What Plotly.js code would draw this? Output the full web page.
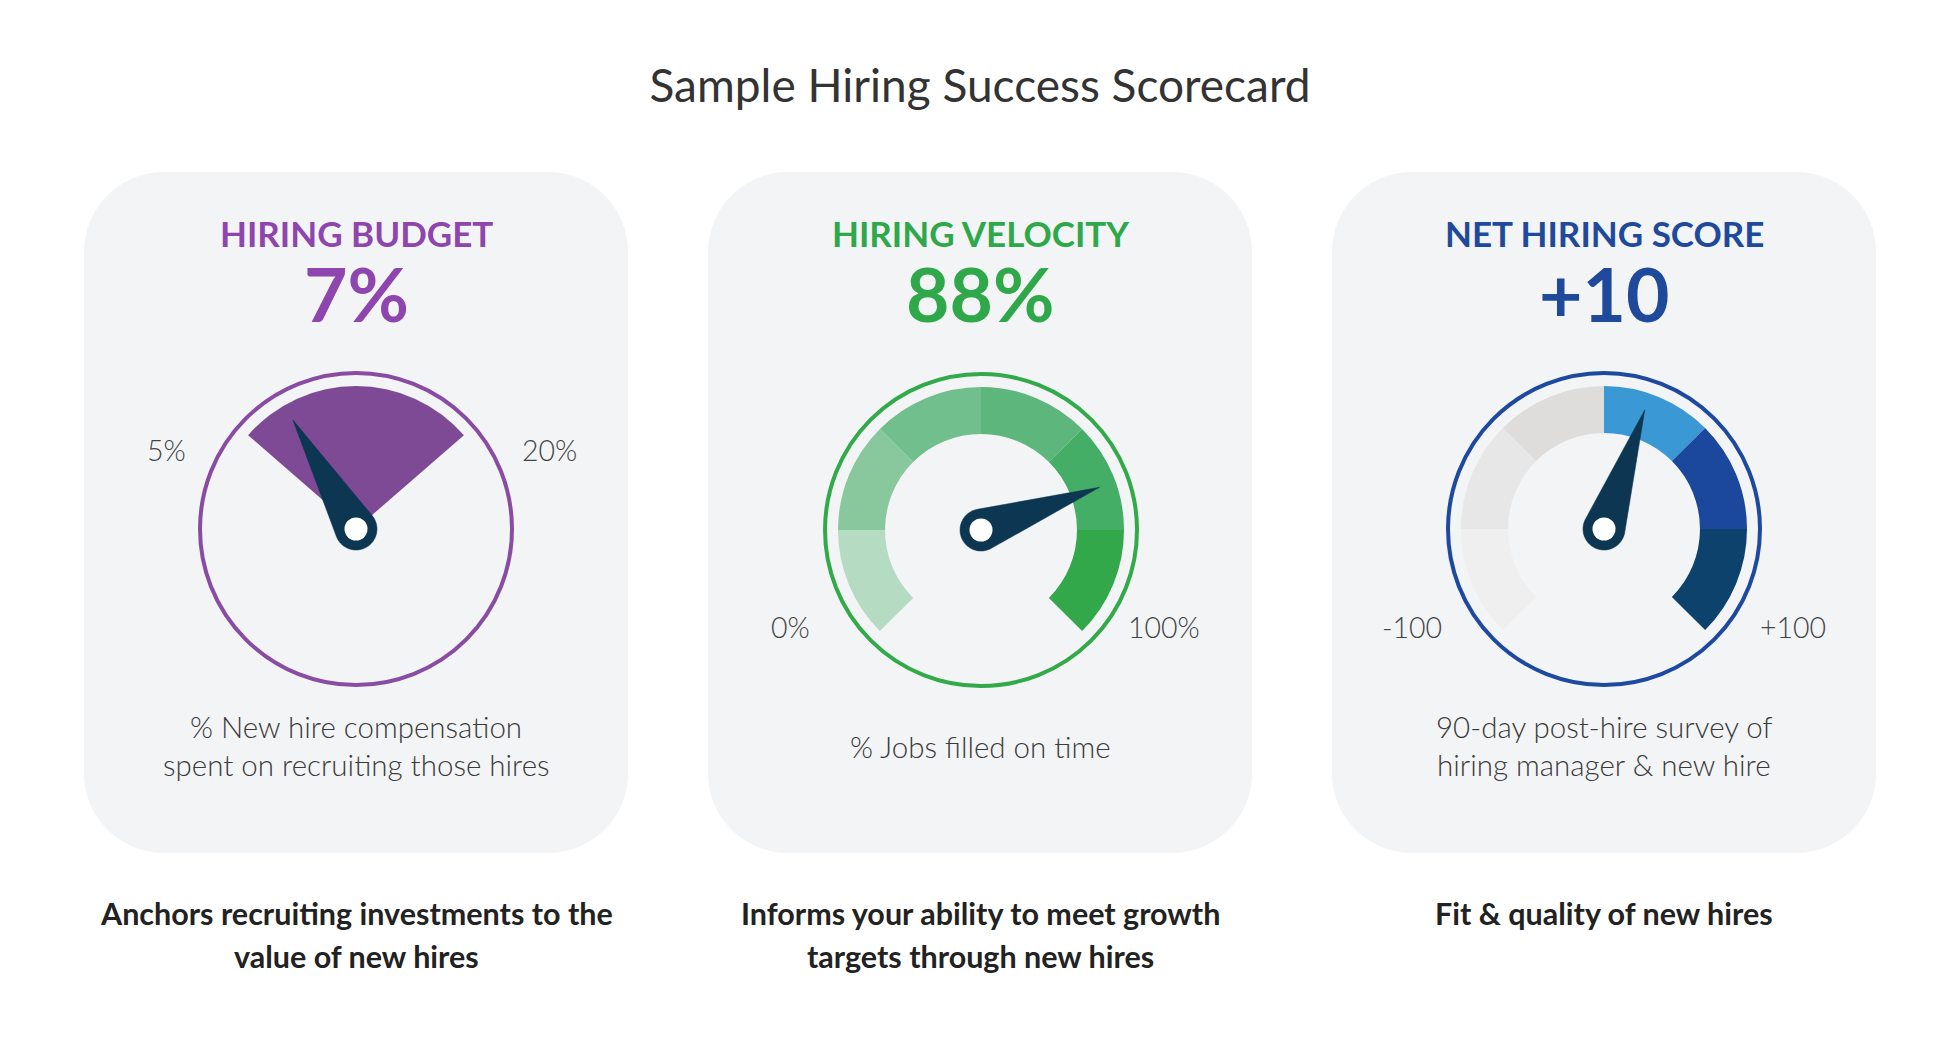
<!DOCTYPE html>
<html><head><meta charset="utf-8">
<script src="https://cdn.plot.ly/plotly-3.0.1.min.js"></script>
<style>html,body{margin:0;padding:0;background:#fff;} #chart{width:1950px;height:1060px;}</style>
</head><body><div id="chart"></div>
<script>
// ---------------- data ----------------
const chartTitle = 'Sample Hiring Success Scorecard';
const metricNames = ['HIRING BUDGET', 'HIRING VELOCITY', 'NET HIRING SCORE'];
const metricValues = [7, 88, 10];
const metricValueLabels = ['7%', '88%', '+10'];
const scaleMin = [5, 0, -100];
const scaleMax = [20, 100, 100];
const scaleMinLabels = ['5%', '0%', '-100'];
const scaleMaxLabels = ['20%', '100%', '+100'];
const needleReadings = [7.9, 76, 14];   // where each needle points, in scale units, as drawn
const segmentCounts = [1, 6, 6];
const metricDescriptions = [
  ['% New hire compensation', 'spent on recruiting those hires'],
  ['% Jobs filled on time'],
  ['90-day post-hire survey of', 'hiring manager & new hire']
];
const metricPurposes = [
  ['Anchors recruiting investments to the', 'value of new hires'],
  ['Informs your ability to meet growth', 'targets through new hires'],
  ['Fit & quality of new hires']
];

// ---------------- styles / layout ----------------
const W = 1950, H = 1060;
const FONT = 'Lato, "Source Sans Pro", "Noto Sans", sans-serif';
const accent = ['#8e45ad', '#2fa84a', '#1f4a9c'];
const outlineColor = ['#8a4ca3', '#33aa4a', '#1d4aa0'];
const segmentColors = [
  ['#7e4a96'],
  ['#b5dbc2', '#89c79c', '#71bf8d', '#5db67b', '#45ae66', '#33a84b'],
  ['#efefef', '#e8e7e7', '#dedddc', '#3a99d4', '#1b489c', '#0c426b']
];
const sweep = [98, 270, 270];
const innerR = [0, 96, 96];
const outerR = 143, ringR = 156;
const needleLen = 126, needleBase = 21, holeSize = 23, needleColor = '#0d3652';
const cardX = [356, 980, 1604];
const gaugeC = [[356, 529], [981, 530], [1604, 529]];
const cardW = 544, cardTop = 172, cardBot = 853, cardRad = 80, cardColor = '#f3f4f6';
const minLabelPos = [[166, 450], [790, 627], [1412, 627]];
const maxLabelPos = [[549, 450], [1164, 627], [1793, 627]];

const px = x => x / W;
const py = y => 1 - y / H;

function roundRect(x0, y0, x1, y1, r) {
  const k = 0.5523 * r;
  const P = (x, y) => px(x) + ',' + py(y);
  return 'M' + P(x0 + r, y0) + ' L' + P(x1 - r, y0) +
    ' C' + P(x1 - r + k, y0) + ' ' + P(x1, y0 + r - k) + ' ' + P(x1, y0 + r) +
    ' L' + P(x1, y1 - r) +
    ' C' + P(x1, y1 - r + k) + ' ' + P(x1 - r + k, y1) + ' ' + P(x1 - r, y1) +
    ' L' + P(x0 + r, y1) +
    ' C' + P(x0 + r - k, y1) + ' ' + P(x0, y1 - r + k) + ' ' + P(x0, y1 - r) +
    ' L' + P(x0, y0 + r) +
    ' C' + P(x0, y0 + r - k) + ' ' + P(x0 + r - k, y0) + ' ' + P(x0 + r, y0) + ' Z';
}

const traces = [];
const shapes = [];
const annotations = [];
const layout = {
  width: W, height: H,
  margin: {l: 0, r: 0, t: 0, b: 0, pad: 0},
  paper_bgcolor: '#ffffff',
  showlegend: false,
  hovermode: false,
  title: {
    text: chartTitle, x: px(980), xanchor: 'center', y: py(86), yanchor: 'middle',
    xref: 'paper', yref: 'paper',
    font: {family: FONT, size: 46, color: '#333333', weight: 400}
  },
  shapes: shapes,
  annotations: annotations
};

for (let i = 0; i < 3; i++) {
  const pid = i === 0 ? 'polar' : 'polar' + (i + 1);
  const [cx, cy] = gaugeC[i];
  const start = -sweep[i] / 2;
  const toTheta = v => start + (v - scaleMin[i]) / (scaleMax[i] - scaleMin[i]) * sweep[i];

  // card
  shapes.push({
    type: 'path', xref: 'paper', yref: 'paper', layer: 'below',
    path: roundRect(cardX[i] - cardW / 2, cardTop, cardX[i] + cardW / 2, cardBot, cardRad),
    fillcolor: cardColor, line: {width: 0}
  });

  layout[pid] = {
    domain: {x: [px(cx - ringR), px(cx + ringR)], y: [py(cy + ringR), py(cy - ringR)]},
    bgcolor: 'rgba(0,0,0,0)',
    hole: 0,
    radialaxis: {visible: false, range: [0, ringR]},
    angularaxis: {
      rotation: 90, direction: 'clockwise', showgrid: false, showticklabels: false,
      ticks: '', showline: true, linecolor: outlineColor[i], linewidth: 4
    }
  };

  // segments
  const n = segmentCounts[i];
  const step = (scaleMax[i] - scaleMin[i]) / n;
  const thetas = [], rs = [], bases = [];
  for (let s = 0; s < n; s++) {
    const a = scaleMin[i] + s * step, b = a + step;
    thetas.push((toTheta(a) + toTheta(b)) / 2);
    rs.push(outerR - innerR[i]);
    bases.push(innerR[i]);
  }
  traces.push({
    type: 'barpolar', subplot: pid,
    theta: thetas, r: rs, base: bases, width: sweep[i] / n,
    marker: {color: segmentColors[i], line: {width: 0}},
    hoverinfo: 'skip'
  });

  // needle
  const tn = toTheta(needleReadings[i]);
  const tang = Math.acos(needleBase / needleLen) * 180 / Math.PI;
  const nr = [needleLen], nt = [tn];
  for (let a = tang; a <= 360 - tang + 0.01; a += 5) {
    nr.push(needleBase); nt.push(tn + a);
  }
  nr.push(needleBase); nt.push(tn + 360 - tang);
  nr.push(needleLen); nt.push(tn);
  traces.push({
    type: 'scatterpolar', subplot: pid, mode: 'lines',
    r: nr, theta: nt, fill: 'toself', fillcolor: needleColor,
    line: {width: 0.5, color: needleColor}, hoverinfo: 'skip'
  });
  traces.push({
    type: 'scatterpolar', subplot: pid, mode: 'markers',
    r: [0], theta: [0], marker: {size: holeSize, color: '#ffffff', line: {width: 0}},
    hoverinfo: 'skip'
  });

  // texts
  annotations.push({
    xref: 'paper', yref: 'paper', x: px(cardX[i]), y: py(233), xanchor: 'center', yanchor: 'middle',
    text: metricNames[i], showarrow: false,
    font: {family: FONT, size: 35, color: accent[i], weight: 700}
  });
  annotations.push({
    xref: 'paper', yref: 'paper', x: px(cardX[i]), y: py(293), xanchor: 'center', yanchor: 'middle',
    text: metricValueLabels[i], showarrow: false,
    font: {family: FONT, size: 75, color: accent[i], weight: 700}
  });
  annotations.push({
    xref: 'paper', yref: 'paper', x: px(minLabelPos[i][0]), y: py(minLabelPos[i][1]),
    xanchor: 'center', yanchor: 'middle', text: scaleMinLabels[i], showarrow: false,
    font: {family: FONT, size: 28.5, color: '#444444', weight: 300}
  });
  annotations.push({
    xref: 'paper', yref: 'paper', x: px(maxLabelPos[i][0]), y: py(maxLabelPos[i][1]),
    xanchor: 'center', yanchor: 'middle', text: scaleMaxLabels[i], showarrow: false,
    font: {family: FONT, size: 28.5, color: '#444444', weight: 300}
  });
  const desc = metricDescriptions[i];
  const descY = desc.length === 1 ? [746] : [726, 764];
  desc.forEach((t, j) => annotations.push({
    xref: 'paper', yref: 'paper', x: px(cardX[i]), y: py(descY[j]), xanchor: 'center', yanchor: 'middle',
    text: t, showarrow: false,
    font: {family: FONT, size: 29.5, color: '#3a3a3a', weight: 300}
  }));
  metricPurposes[i].forEach((t, j) => annotations.push({
    xref: 'paper', yref: 'paper', x: px(cardX[i]), y: py(913 + 43 * j), xanchor: 'center', yanchor: 'middle',
    text: t, showarrow: false,
    font: {family: FONT, size: 30.5, color: '#222222', weight: 700}
  }));
}

Plotly.newPlot('chart', traces, layout, {staticPlot: true, displayModeBar: false});
</script></body></html>
